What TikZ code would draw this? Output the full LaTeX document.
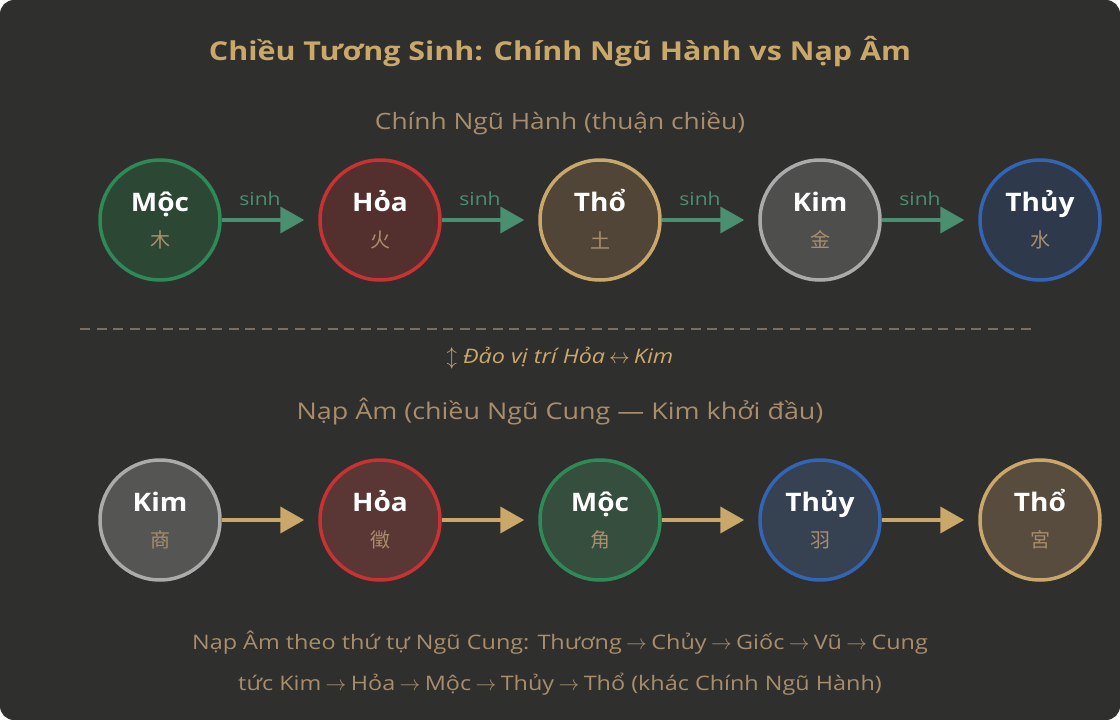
\documentclass[tikz,border=0pt]{standalone}
\usepackage{fontspec}
\setmainfont{Open Sans}[FakeStretch=1.17]
\newfontfamily\namefont{Open Sans}[FakeStretch=1.1]
\newfontfamily\cjk{Noto Sans CJK SC}
\usetikzlibrary{arrows.meta}
\definecolor{bg}{HTML}{2F2F2D}
\definecolor{gold}{HTML}{C9A86A}
\definecolor{tan}{HTML}{A88E6C}
\definecolor{sgreen}{HTML}{4A9070}
\definecolor{dashcol}{HTML}{7A6E5E}
\definecolor{mocS}{HTML}{2E8B57}\definecolor{mocF}{HTML}{2D4735}
\definecolor{hoaS}{HTML}{C83232}\definecolor{hoaF}{HTML}{532F2D}
\definecolor{thoS}{HTML}{C9A86A}\definecolor{thoF}{HTML}{504536}
\definecolor{kimS}{HTML}{ABABAB}\definecolor{kimF}{HTML}{4E4E4D}
\definecolor{thuyS}{HTML}{3465B5}\definecolor{thuyF}{HTML}{2E394B}
\tikzset{
  elem/.style={circle,minimum size=120pt,inner sep=0pt,line width=3.5pt},
  ename/.style={text=white,anchor=base,inner sep=0pt,font=\namefont\fontsize{25.5}{30}\selectfont\bfseries},
  ehan/.style={text=tan,inner sep=0pt,font=\cjk\fontsize{20}{22}\selectfont},
  garrow/.style={draw=sgreen,line width=4pt,-{Triangle[length=24pt,width=26pt]}},
  yarrow/.style={draw=gold,line width=4pt,-{Triangle[length=24pt,width=26pt]}},
  lbl/.style={text=sgreen,anchor=base,inner sep=0pt,font=\fontsize{18}{20}\selectfont},
  txt/.style={anchor=base,inner sep=0pt},
}
\newcommand{\ar}{\hspace{0.22em}$\rightarrow$\hspace{0.22em}}
\begin{document}
\begin{tikzpicture}[x=1pt,y=-1pt]
\useasboundingbox (0,0) rectangle (1120,720);
\fill[white] (0,0) rectangle (1120,720);
\fill[bg,rounded corners=14pt] (0,0) rectangle (1120,720);
\node[txt,text=gold,font=\fontsize{26}{30}\selectfont\bfseries] (title) at (560,60) {Chiều Tương Sinh: Chính Ngũ Hành vs Nạp Âm};
\node[txt,text=tan,font=\fontsize{22.5}{26}\selectfont] (sub1) at (560,129) {Chính Ngũ Hành (thuận chiều)};
% top row
\foreach \n/\x/\nm/\hz/\c in {t1/160/Mộc/木/moc, t2/380/Hỏa/火/hoa, t3/600/Thổ/土/tho, t4/820/Kim/金/kim, t5/1040/Thủy/水/thuy}{
  \node[elem,draw=\c S,fill=\c F] (\n) at (\x,220) {};
  \node[ename] (\n name) at (\x,211) {\nm};
  \node[ehan] (\n han) at (\x,240) {\hz};
}
\foreach \a/\b in {t1/t2,t2/t3,t3/t4,t4/t5}{
  \draw[garrow] (\a.east) -- ([xshift=-14pt]\b.west);
}
\foreach \x/\n in {260/s1,480/s2,700/s3,920/s4}{
  \node[lbl] (\n) at (\x,205) {sinh};
}
\coordinate (dl) at (80,329);
\coordinate (dr) at (1035,329);
\draw[dashcol,line width=1.6pt,dash pattern=on 10pt off 6.5pt] (dl) -- (dr);
\node[txt,text=gold,font=\fontsize{20}{22}\selectfont\itshape] (swap) at (560,363) {$\updownarrow$ Đảo vị trí Hỏa\hspace{0.2em}$\leftrightarrow$\hspace{0.2em}Kim};
\node[txt,text=tan,font=\fontsize{23}{26}\selectfont] (sub2) at (560,419) {Nạp Âm (chiều Ngũ Cung — Kim khởi đầu)};
% bottom row
\foreach \n/\x/\nm/\hz/\c in {b1/160/Kim/商/kim, b2/380/Hỏa/徵/hoa, b3/600/Mộc/角/moc, b4/820/Thủy/羽/thuy, b5/1040/Thổ/宮/tho}{
  \node[elem,draw=\c S,fill=\c F!96!white] (\n) at (\x,520) {};
  \node[ename] (\n name) at (\x,511) {\nm};
  \node[ehan] (\n han) at (\x,540) {\hz};
}
\foreach \a/\b in {b1/b2,b2/b3,b3/b4,b4/b5}{
  \draw[yarrow] (\a.east) -- ([xshift=-14pt]\b.west);
}
\node[txt,text=tan,font=\fontsize{20}{24}\selectfont] (n1) at (560,649) {Nạp Âm theo thứ tự Ngũ Cung: Thương\ar Chủy\ar Giốc\ar Vũ\ar Cung};
\node[txt,text=tan,font=\fontsize{20}{24}\selectfont] (n2) at (560,690) {tức Kim\ar Hỏa\ar Mộc\ar Thủy\ar Thổ (khác Chính Ngũ Hành)};
\end{tikzpicture}
\end{document}
